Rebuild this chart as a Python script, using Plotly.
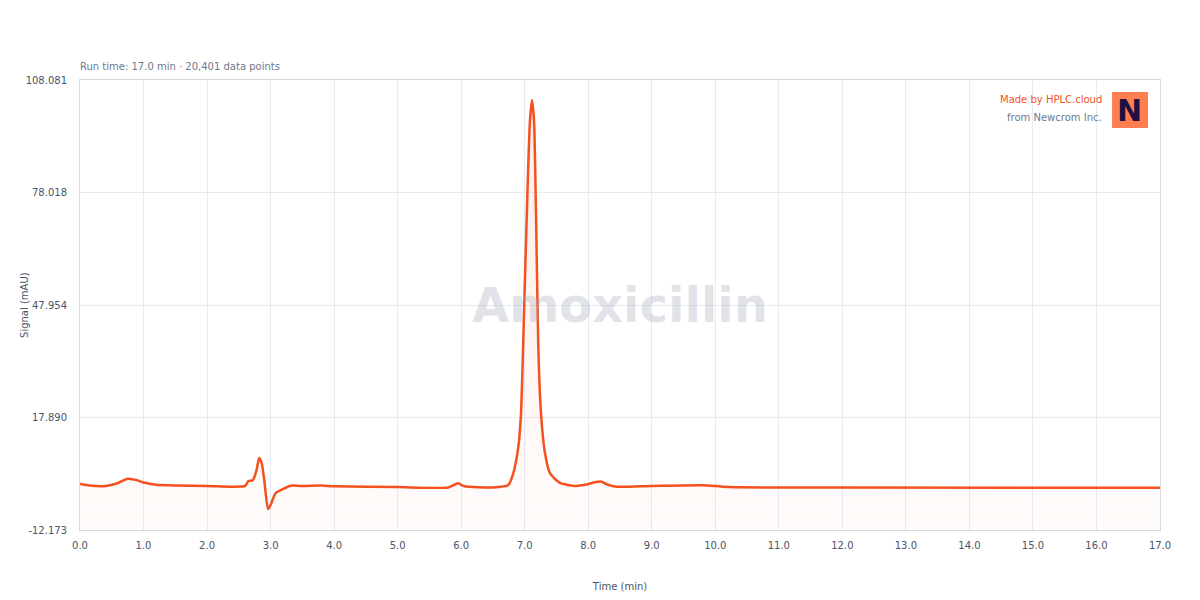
import plotly.graph_objects as go

# Retention time (min) and signal (mAU)
time_min = [0.0, 0.15, 0.4, 0.6, 0.75, 0.9, 1.0, 1.2, 1.5, 2.0, 2.6, 2.65, 2.72, 2.78, 2.82, 2.86, 2.9,
            2.96, 3.0, 3.08, 3.2, 3.3, 3.35, 3.5, 3.8, 4.0, 5.0, 5.8, 5.95, 6.05, 6.5, 6.742, 6.82,
            6.9, 6.942, 6.989, 7.041, 7.083, 7.115, 7.146, 7.178, 7.214, 7.256, 7.319, 7.398, 7.555,
            7.8, 7.95, 8.1, 8.2, 8.3, 8.45, 9.0, 9.8, 10.2, 12.0, 17.0]
signal_mau = [0.1, -0.3, -0.4, 0.4, 1.5, 1.1, 0.5, -0.1, -0.3, -0.4, -0.4, 0.9, 1.1, 3.9, 7.1, 5.7, 1.2,
              -6.6, -5.5, -2.3, -1.2, -0.4, -0.3, -0.4, -0.3, -0.5, -0.7, -0.8, 0.3, -0.5, -0.8, -0.15, 2.97,
              10.09, 19.07, 45.8, 76.9, 97.4, 102.7, 97.4, 72.5, 36.8, 19.1, 8.4, 3.0, 0.4,
              -0.4, -0.1, 0.6, 0.8, 0.0, -0.6, -0.4, -0.2, -0.7, -0.8, -0.9]

y_ticks = [-12.173, 17.890, 47.954, 78.018, 108.081]
y_tick_labels = ["-12.173", "17.890", "47.954", "78.018", "108.081"]
x_ticks = list(range(0, 18))
x_tick_labels = [f"{v:.1f}" for v in x_ticks]

y_min, y_max = y_ticks[0], y_ticks[-1]
line_color = "#F4511E"

fig = go.Figure()
# invisible baseline at the bottom of the axis so the fill reaches the floor
fig.add_trace(go.Scatter(x=[time_min[0], time_min[-1]], y=[y_min, y_min], mode="lines",
                         line=dict(width=0), hoverinfo="skip", showlegend=False))
fig.add_trace(go.Scatter(
    x=time_min, y=signal_mau, mode="lines",
    line=dict(color=line_color, width=2.5, shape="spline", smoothing=0.6),
    fill="tonexty",
    fillgradient=dict(type="vertical",
                      colorscale=[[0, "rgba(244,81,30,0.02)"], [1, "rgba(244,81,30,0.10)"]]),
    showlegend=False,
))

axis_font = dict(family="DejaVu Sans, sans-serif", size=10, color="#4a5568")
fig.update_layout(
    width=1200, height=600,
    margin=dict(l=72, r=48, t=72, b=78, autoexpand=False),
    paper_bgcolor="white", plot_bgcolor="white",
    font=dict(family="DejaVu Sans, sans-serif", size=10, color="#4a5568"),
    xaxis=dict(range=[0, 17], tickvals=x_ticks, ticktext=x_tick_labels, tickfont=axis_font,
               ticklabelstandoff=6,
               showgrid=True, gridcolor="#e6eaf2", gridwidth=1, zeroline=False,
               showline=True, linecolor="#d5dbe5", linewidth=1, mirror=True,
               title=dict(text="Time (min)", font=dict(size=10, color="#4a5568"), standoff=32)),
    yaxis=dict(range=[y_min, y_max], tickvals=y_ticks, ticktext=y_tick_labels, tickfont=axis_font,
               ticklabelstandoff=10,
               showgrid=True, gridcolor="#e6eaf2", gridwidth=1, zeroline=False,
               showline=True, linecolor="#d5dbe5", linewidth=1, mirror=True),
    annotations=[
        dict(text="Signal (mAU)", xref="paper", yref="paper", x=-0.0519, y=0.5,
             xanchor="center", yanchor="middle", textangle=-90, showarrow=False,
             font=dict(size=10, color="#4a5568")),
        dict(text="Run time: 17.0 min · 20,401 data points", xref="paper", yref="paper",
             x=0, y=1.014, xanchor="left", yanchor="bottom", showarrow=False, xshift=-2,
             font=dict(size=10, color="#6b7a90")),
        dict(text="<b>Amoxicillin</b>", xref="paper", yref="paper", x=0.5, y=0.5,
             xanchor="center", yanchor="middle", showarrow=False,
             font=dict(size=48, color="rgba(160,168,185,0.32)")),
        dict(text="Made by HPLC.cloud", xref="paper", yref="paper", x=0.9485, y=0.9556,
             xanchor="right", yanchor="middle", showarrow=False,
             font=dict(size=10, color="#F4511E")),
        dict(text="from Newcrom Inc.", xref="paper", yref="paper", x=0.9485, y=0.9156,
             xanchor="right", yanchor="middle", showarrow=False,
             font=dict(size=10, color="#6b7a90")),
        dict(text="<b>N</b>", xref="paper", yref="paper", x=0.9722, y=0.9333,
             xanchor="center", yanchor="middle", showarrow=False,
             font=dict(family="DejaVu Sans, sans-serif", size=30, color="#1e1140")),
    ],
    shapes=[
        dict(type="rect", xref="paper", yref="paper", x0=0.9556, x1=0.9889, y0=0.8933, y1=0.9733,
             fillcolor="#FF7F50", line=dict(width=0), layer="above"),
    ],
)

fig.write_html("out.html")
